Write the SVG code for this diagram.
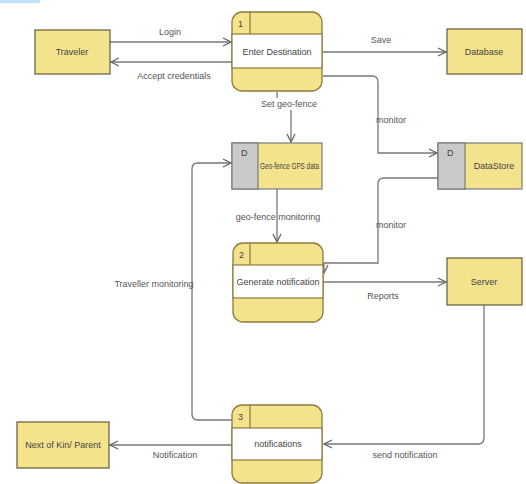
<svg xmlns="http://www.w3.org/2000/svg" width="526" height="484" viewBox="0 0 526 484">
<style>
.ent{fill:#f3e38c;stroke:#6e6446;stroke-width:1.3}
.proc{fill:#f3e38c;stroke:#8c7a3c;stroke-width:1.3}
.mid{fill:#ffffff;stroke:#8c7a3c;stroke-width:1.2}
.gray{fill:#c9c9c9;stroke:#7a7a7a;stroke-width:1.2}
.ds{fill:#f3e38c;stroke:#7a7a7a;stroke-width:1.2}
.sep{stroke:#8c7a3c;stroke-width:1.2;fill:none}
.ln{fill:none;stroke:#777;stroke-width:1.3}
text{font-family:"Liberation Sans",Arial,sans-serif;font-size:9px;fill:#444}
.c{text-anchor:middle}
.lbl{fill:#555}
</style>
<defs>
<marker id="ah" markerWidth="10" markerHeight="10" refX="9" refY="5" orient="auto" markerUnits="userSpaceOnUse">
<path d="M1,1 L9,5 L1,9" fill="none" stroke="#666" stroke-width="1.3"/>
</marker>
</defs>
<rect x="0" y="0" width="40" height="3" fill="#bfe0f8"/>
<g id="connectors">
<path class="ln" d="M110,42 H231" marker-end="url(#ah)"/>
<path class="ln" d="M232,62 H111" marker-end="url(#ah)"/>
<path class="ln" d="M323,52 H446" marker-end="url(#ah)"/>
<path class="ln" d="M323,76 H372 Q378,76 378,82 V153 H437" marker-end="url(#ah)"/>
<path class="ln" d="M277,92 V104 H291 V142" marker-end="url(#ah)"/>
<path class="ln" d="M277,189 V242" marker-end="url(#ah)"/>
<path class="ln" d="M438,178 H384 Q378,178 378,184 V263 H324 V273" marker-end="url(#ah)"/>
<path class="ln" d="M323,282 H446" marker-end="url(#ah)"/>
<path class="ln" d="M484,305 V438 Q484,444 478,444 H324" marker-end="url(#ah)"/>
<path class="ln" d="M232,420 H198 Q192,420 192,414 V169 Q192,163 198,163 H231" marker-end="url(#ah)"/>
<path class="ln" d="M232,445 H110" marker-end="url(#ah)"/>
<rect x="258" y="98" width="64" height="12" fill="#fff"/>
<text class="lbl c" x="170" y="35">Login</text>
<text class="lbl c" x="174" y="79">Accept credentials</text>
<text class="lbl c" x="381" y="43">Save</text>
<text class="lbl" x="376" y="123">monitor</text>
<text class="lbl c" x="289" y="107">Set geo-fence</text>
<text class="lbl c" x="278" y="220">geo-fence monitoring</text>
<text class="lbl" x="376" y="228">monitor</text>
<text class="lbl c" x="383" y="299">Reports</text>
<text class="lbl c" x="154" y="287">Traveller monitoring</text>
<text class="lbl c" x="405" y="458">send notification</text>
<text class="lbl c" x="175" y="458">Notification</text>
</g>
<g id="traveler">
<rect class="ent" x="35" y="30" width="75" height="44"/>
<text class="c" x="72" y="55">Traveler</text>
</g>
<g id="database">
<rect class="ent" x="447" y="29" width="75" height="45"/>
<text class="c" x="484" y="55">Database</text>
</g>
<g id="server">
<rect class="ent" x="447" y="258" width="75" height="47"/>
<text class="c" x="484" y="285">Server</text>
</g>
<g id="nextofkin">
<rect class="ent" x="17" y="422" width="92" height="46"/>
<text class="c" x="63" y="448">Next of Kin/ Parent</text>
</g>
<g id="p1">
<rect class="proc" x="232" y="12" width="90" height="79" rx="10"/>
<rect class="mid" x="232" y="34" width="90" height="34"/>
<line class="sep" x1="250" y1="12" x2="250" y2="34"/>
<text x="238" y="27">1</text>
<text class="c" x="277" y="55">Enter Destination</text>
</g>
<g id="p2">
<rect class="proc" x="233" y="243" width="90" height="79" rx="10"/>
<rect class="mid" x="233" y="265" width="90" height="33"/>
<line class="sep" x1="250" y1="243" x2="250" y2="265"/>
<text x="239" y="258">2</text>
<text class="c" x="278" y="285">Generate notification</text>
</g>
<g id="p3">
<rect class="proc" x="232" y="405" width="90" height="78" rx="10"/>
<rect class="mid" x="232" y="428" width="90" height="32"/>
<line class="sep" x1="250" y1="405" x2="250" y2="428"/>
<text x="238" y="420">3</text>
<text class="c" x="278" y="447">notifications</text>
</g>
<g id="geofence">
<rect class="ds" x="232" y="143" width="90" height="46"/>
<rect class="gray" x="232" y="143" width="26" height="46"/>
<text x="241" y="156">D</text>
<text x="260" y="169" textLength="59" lengthAdjust="spacingAndGlyphs">Geo-fence GPS data</text>
</g>
<g id="datastore">
<rect class="ds" x="438" y="143" width="84" height="46"/>
<rect class="gray" x="438" y="143" width="27" height="46"/>
<text x="447" y="156">D</text>
<text class="c" x="494" y="169">DataStore</text>
</g>
</svg>
